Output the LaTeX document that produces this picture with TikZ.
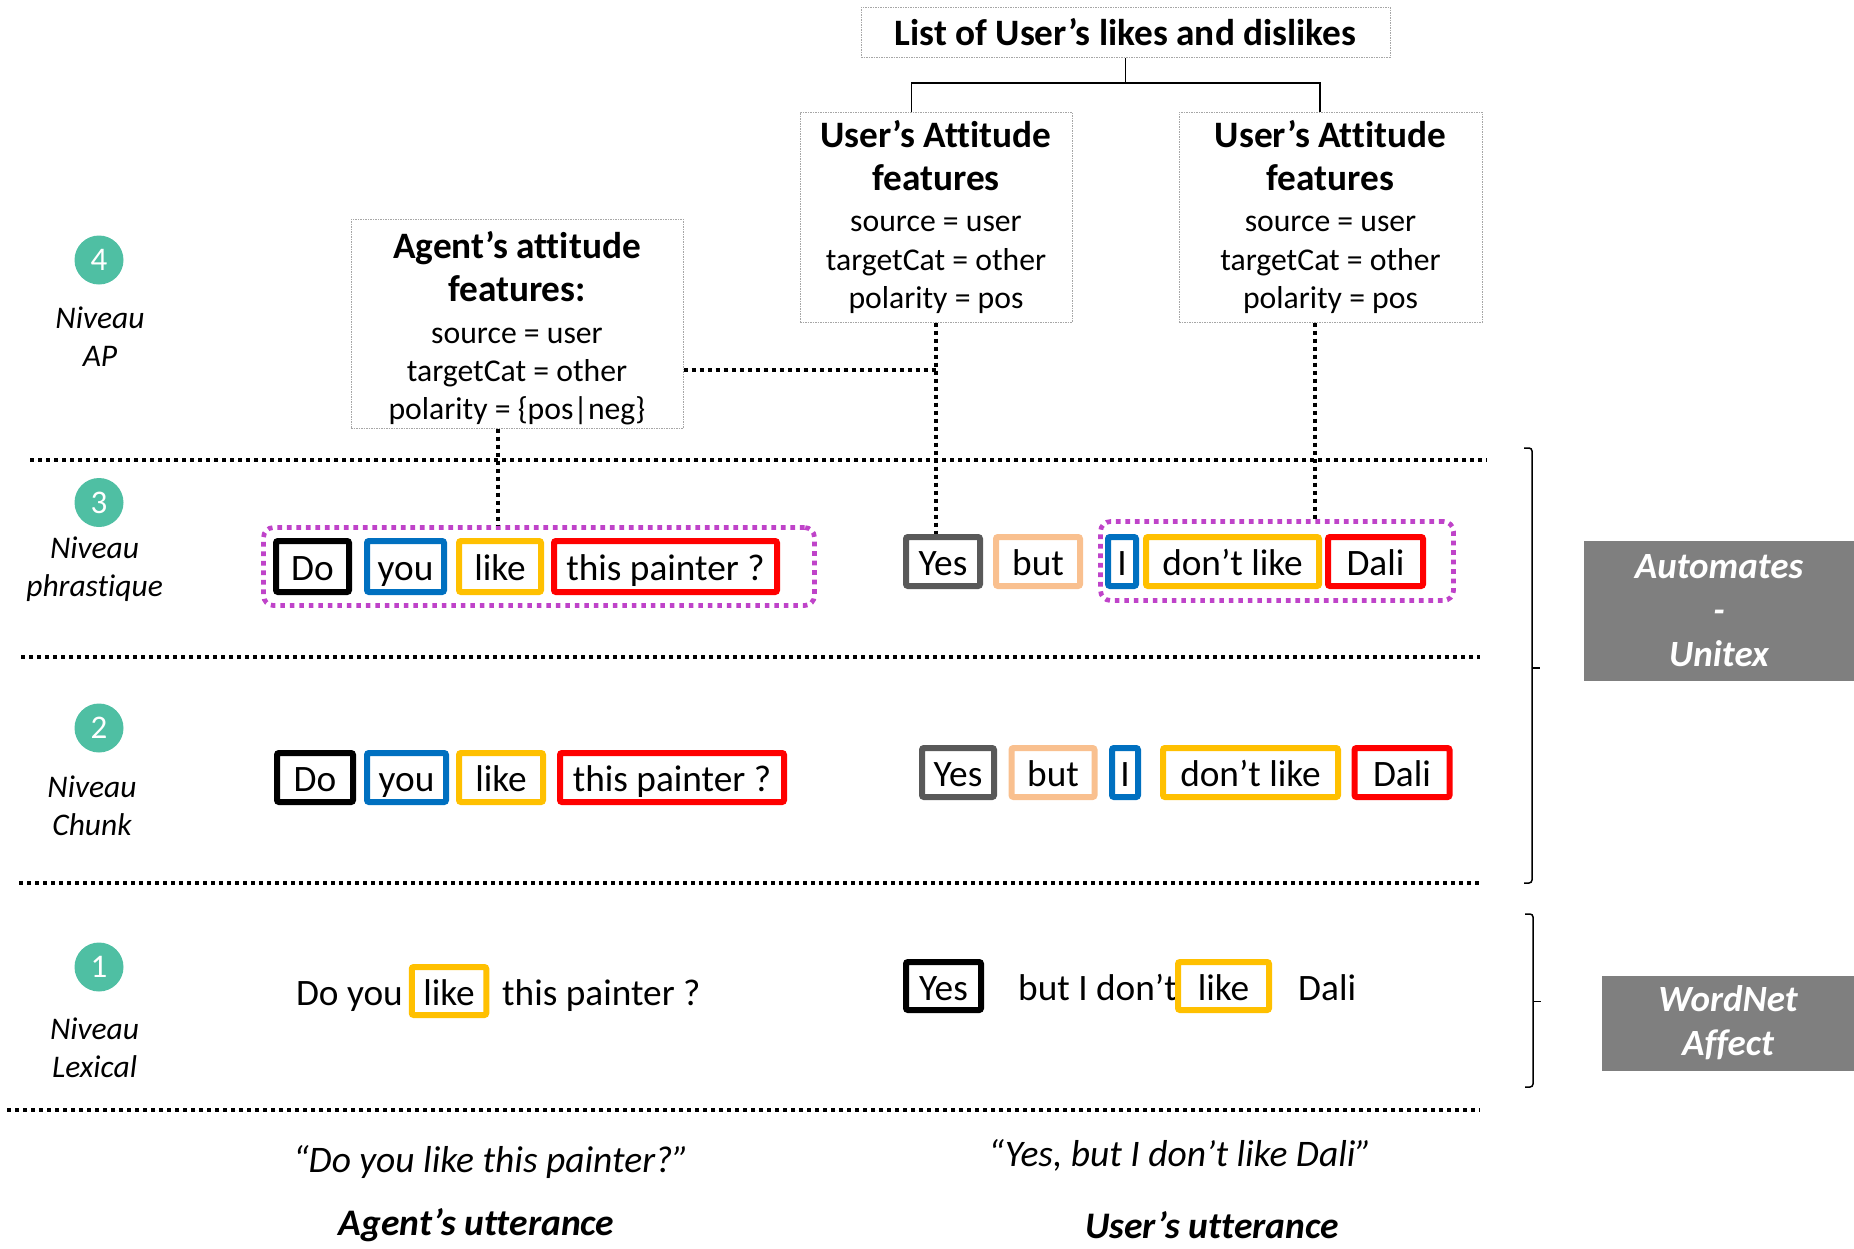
\documentclass[tikz,border=0pt]{standalone}
\usepackage{fontspec}
\setmainfont{Carlito}[Ligatures=NoCommon]
\usetikzlibrary{calc}
\definecolor{mag}{HTML}{BF43C9}
\definecolor{wblue}{HTML}{0070C0}
\definecolor{worange}{HTML}{FFC000}
\definecolor{wred}{HTML}{FF0000}
\definecolor{wgray}{HTML}{595959}
\definecolor{wpeach}{HTML}{F9C08F}
\definecolor{lvlgreen}{HTML}{4FBFA3}
\definecolor{boxgray}{HTML}{7F7F7F}
\definecolor{thingray}{HTML}{A6A6A6}
\newcommand\bodyfnt{\fontsize{31.7}{38.4}\selectfont}
\newcommand\headfnt{\fontsize{37.3}{43.7}\selectfont\bfseries}
\newcommand\wordfnt{\fontsize{37.3}{42}\selectfont}
\begin{document}
\begin{tikzpicture}[x=1pt,y=-1pt,
  abox/.style={draw=thingray, line width=1pt, dash pattern=on 1.5pt off 1pt, align=center, inner sep=0pt, font=\bodyfnt},
  wbox/.style={draw, line width=6pt, rounded corners=2pt, fill=white, inner sep=0pt, font=\wordfnt, text height=30pt, text depth=2pt},
  wtext/.style={inner sep=0pt, font=\wordfnt, text height=30pt, text depth=2pt},
  grp/.style={draw=mag, line width=4.7pt, dash pattern=on 4.7pt off 4.8pt, rounded corners=10pt, inner sep=0pt},
  lvl/.style={circle, fill=lvlgreen, text=white, minimum size=49pt, inner sep=0pt, font=\fontsize{33}{33}\selectfont},
  lbl/.style={font=\fontsize{31.5}{37.8}\selectfont\itshape, align=center},
  gbox/.style={fill=boxgray, text=white, font=\fontsize{37}{44}\selectfont\bfseries\itshape, align=center, inner sep=0pt},
  dotl/.style={line width=4pt, dash pattern=on 4pt off 4pt},
  capt/.style={font=\fontsize{37.5}{44}\selectfont\itshape},
  captb/.style={font=\fontsize{37.5}{44}\selectfont\bfseries\itshape, inner sep=0pt},
  treel/.style={line width=1.5pt},
  brk/.style={line width=1.5pt, rounded corners=3pt}
]
\useasboundingbox (0,0) rectangle (1854,1248);

% ---- top feature boxes
\node[abox, minimum width=529pt, minimum height=50pt, font=\headfnt] (list) at (1125.5,32) {List of User’s likes and dislikes};
\node[abox, minimum width=272pt, minimum height=210pt, yshift=-2pt] (ua1) at (936,215)
  {{\headfnt User’s Attitude}\\[4.5pt]{\headfnt features}\\[3pt]source = user\\targetCat = other\\polarity = pos};
\node[abox, minimum width=303pt, minimum height=210pt, yshift=-2pt] (ua2) at (1330.5,215)
  {{\headfnt User’s Attitude}\\[4.5pt]{\headfnt features}\\[3pt]source = user\\targetCat = other\\polarity = pos};
\node[abox, minimum width=332pt, minimum height=209pt] (agent) at (517,323.5)
  {\rule{0pt}{37pt}{\headfnt Agent’s attitude}\\[4.5pt]{\headfnt features:}\\[3pt]source = user\\targetCat = other\\polarity = \{pos|neg\}};

\coordinate (tj) at (1125.5,83);
\draw[treel] (list.south) -- (tj);
\draw[treel] ([xshift=-24.5pt]ua1.north) |- (tj) -| ([xshift=-10.5pt]ua2.north);

% ---- level circles and labels
\node[lvl] (c4) at (99,260) {4};
\node[lvl] (c3) at (99,502.5) {3};
\node[lvl] (c2) at (99,728) {2};
\node[lvl] (c1) at (99,967) {1};
\node[lbl] (l4) at (100,337) {Niveau\\AP};
\node[lbl] (l3) at (94.6,569) {Niveau\\phrastique};
\node[lbl] (l2) at (92,806) {Niveau\\Chunk};
\node[lbl] (l1) at (94.6,1047.5) {Niveau\\Lexical};

% ---- separators
\draw[dotl] (30,460) -- (1487,460);
\draw[dotl] (21,657) -- (1480,657);
\draw[dotl] (19,883) -- (1480,883);
\draw[dotl] (7,1110) -- (1480,1110);

% ---- level 3
\node[grp, minimum width=551pt, minimum height=78pt] (g3l) at (539,566.5) {};
\node[wbox, draw=black, minimum width=73pt, minimum height=51pt] (do3) at (312.5,566.5) {Do};
\node[wbox, draw=wblue, minimum width=77pt, minimum height=51pt] (you3) at (405.5,566.5) {you};
\node[wbox, draw=worange, minimum width=82pt, minimum height=51pt] (like3) at (500,566.5) {like};
\node[wbox, draw=wred, minimum width=223pt, minimum height=51pt] (tp3) at (665.5,566.5) {this painter ?};

\node[grp, minimum width=353pt, minimum height=79pt] (g3r) at (1277,561) {};
\node[wbox, draw=wgray, minimum width=74pt, minimum height=49pt] (yes3) at (943,561.5) {Yes};
\node[wbox, draw=wpeach, minimum width=84pt, minimum height=49pt] (but3) at (1038,561.5) {but};
\node[wbox, draw=wblue, minimum width=28pt, minimum height=49pt] (i3) at (1122,561.5) {I};
\node[wbox, draw=worange, minimum width=173pt, minimum height=49pt] (dl3) at (1232.5,561.5) {don’t like};
\node[wbox, draw=wred, minimum width=95pt, minimum height=49pt] (dali3) at (1375.5,561.5) {Dali};

% ---- level 2
\node[wbox, draw=black, minimum width=76pt, minimum height=49pt] (do2) at (315,777.5) {Do};
\node[wbox, draw=wblue, minimum width=79pt, minimum height=49pt] (you2) at (406.5,777.5) {you};
\node[wbox, draw=worange, minimum width=84pt, minimum height=49pt] (like2) at (501,777.5) {like};
\node[wbox, draw=wred, minimum width=224pt, minimum height=49pt] (tp2) at (672,777.5) {this painter ?};

\node[wbox, draw=wgray, minimum width=72pt, minimum height=49pt] (yes2) at (958,772.5) {Yes};
\node[wbox, draw=wpeach, minimum width=83pt, minimum height=49pt] (but2) at (1053,772.5) {but};
\node[wbox, draw=wblue, minimum width=26pt, minimum height=49pt] (i2) at (1125,772.5) {I};
\node[wbox, draw=worange, minimum width=175pt, minimum height=49pt] (dl2) at (1250.5,772.5) {don’t like};
\node[wbox, draw=wred, minimum width=95pt, minimum height=49pt] (dali2) at (1402,772.5) {Dali};

% ---- level 1
\node[wbox, draw=worange, minimum width=74.5pt, minimum height=48pt] (like1) at (449,991) {like};
\node[wtext, anchor=east] (doyou1) at (403,991) {Do you};
\node[wtext, anchor=west] (tp1) at (502,991) {this painter ?};
\node[wbox, draw=black, minimum width=75pt, minimum height=48pt] (yes1) at (943.5,986) {Yes};
\node[wtext, anchor=west] (bid1) at (1018,986) {but I don’t};
\node[wbox, draw=worange, minimum width=91pt, minimum height=48pt] (like1r) at (1223.5,986) {like};
\node[wtext, anchor=west] (dali1) at (1298,986) {Dali};

% ---- dotted connectors
\draw[dotl] ([yshift=-46.5pt]agent.east) -- ([yshift=-46.5pt]agent.east -| ua1.south);
\draw[dotl] (ua1.south) -- (ua1.south |- yes3.north);
\draw[dotl] ([xshift=-15.5pt]ua2.south) -- ([xshift=-15.5pt]ua2.south |- g3r.north);
\draw[dotl] ([xshift=-19pt]agent.south) -- ([xshift=-19pt]agent.south |- g3l.north);

% ---- bottom captions
\node[capt] (qa) at (491,1162) {“Do you like this painter?”};
\node[capt] (qu) at (1180,1155) {“Yes, but I don’t like Dali”};
\node[captb] (ua) at (476.5,1225) {Agent’s utterance};
\node[captb] (uu) at (1212,1225) {User’s utterance};

% ---- brackets and tools
\draw[brk] (1524,448) -| (1532,883) -- (1524,883);
\draw[brk] (1532,668) -- (1540,668);
\draw[brk] (1525,914) -| (1533,1087) -- (1525,1087);
\draw[brk] (1533,1001.5) -- (1541,1001.5);
\node[gbox, minimum width=270pt, minimum height=139.5pt] (auto) at (1719,611) {Automates\\-\\Unitex};
\node[gbox, minimum width=252pt, minimum height=95pt] (wn) at (1728,1023) {WordNet\\Affect};
\end{tikzpicture}
\end{document}
